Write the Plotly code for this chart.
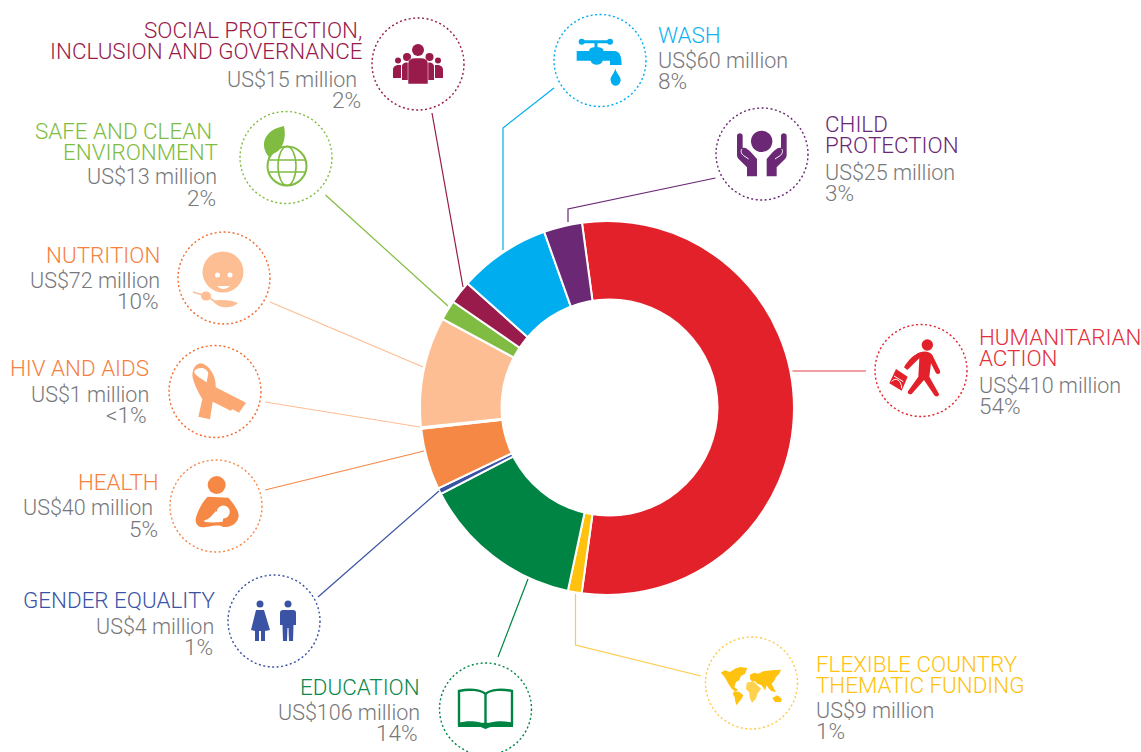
"""UNICEF style funding donut with call-outs."""

import re

import plotly.graph_objects as go

WIDTH = 1141
HEIGHT = 752

categories = [
    "Humanitarian action",
    "Flexible country thematic funding",
    "Education",
    "Gender equality",
    "Health",
    "HIV and AIDS",
    "Nutrition",
    "Safe and clean environment",
    "Social protection, inclusion and governance",
    "WASH",
    "Child protection",
]
funding_million = [410, 9, 106, 4, 40, 1, 72, 13, 15, 60, 25]
share_labels = ["54%", "1%", "14%", "1%", "5%", "<1%", "10%", "2%", "2%", "8%", "3%"]
heading_lines = [
    ["HUMANITARIAN", "ACTION"],
    ["FLEXIBLE COUNTRY", "THEMATIC FUNDING"],
    ["EDUCATION"],
    ["GENDER EQUALITY"],
    ["HEALTH"],
    ["HIV AND AIDS"],
    ["NUTRITION"],
    ["SAFE AND CLEAN", "ENVIRONMENT"],
    ["SOCIAL PROTECTION,", "INCLUSION AND GOVERNANCE"],
    ["WASH"],
    ["CHILD", "PROTECTION"],
]

slice_colors = [
    "#e3212a", "#ffc20e", "#008444", "#3a53a4", "#f68846", "#fbb078",
    "#fdbe94", "#80bc41", "#981b4b", "#00aeef", "#6a2875",
]
text_colors = [
    "#e5303a", "#ffc20e", "#0b8a4c", "#3a53a4", "#f6813f", "#f6813f",
    "#f6813f", "#80bc41", "#981b4b", "#12b2f0", "#6a2875",
]
circle_colors = [
    "#e3212a", "#ffc94a", "#008444", "#3a53a4", "#f68846", "#f26b2d",
    "#f26b2d", "#80bc41", "#981b4b", "#00aeef", "#6a2875",
]
leader_colors = [
    "#e3404a", "#ffc94a", "#008444", "#3a53a4", "#f68846", "#fdbe94",
    "#fdbe94", "#80bc41", "#981b4b", "#00aeef", "#6a2875",
]
GREY = "#77787b"
FONT = "Roboto"
HEADING_SIZE = 22.4
AMOUNT_SIZE = 21.5
SHARE_SIZE = 22.5

# layout in page pixels, one entry per category: side, per-line edge and centre y
text_places = [
    ("left", [978, 978, 978, 978], [337, 358, 385, 406]),
    ("left", [815, 815, 815, 815], [664, 685, 710, 731]),
    ("right", [421, 421, 419], [687, 712, 733]),
    ("right", [216, 215, 214], [600, 626, 647]),
    ("right", [160, 154, 159], [482, 507, 529]),
    ("right", [150, 150, 148], [368, 394, 415]),
    ("right", [161, 161, 160], [255, 280, 301]),
    ("right", [213, 219, 218, 217], [131, 152, 176, 198]),
    ("right", [363, 363, 358, 362], [30, 51, 79, 100]),
    ("left", [657, 657, 657], [35, 60, 81]),
    ("left", [824, 824, 824, 824], [124, 145, 172, 193]),
]
circle_centers = [
    (921, 370.5), (751.5, 683), (485.5, 709), (274, 621), (216, 506), (215, 391.5),
    (224, 278), (286, 157.5), (418, 64), (600, 60.5), (762, 154),
]
leader_paths = [
    "M792.5,371 L866,371",
    "M575.5,594 L575.5,645 L701,676",
    "M498,657 L528,579",
    "M318,597 L439,491",
    "M265,490 L424,451",
    "M265,402 L420,427",
    "M270,302 L423,367",
    "M325.5,195 L448,306",
    "M432,113 L463,287",
    "M503,250 L503,128 L554,88",
    "M568,222 L568,209 L715.5,178",
]


def zoomed(origin_x, origin_y, path):
    """Turn a path drawn on a 3x crop into page pixels."""
    numbers = iter(range(10000))

    def convert(match):
        origin = origin_x if next(numbers) % 2 == 0 else origin_y
        return f"{origin + float(match.group()) / 3:.2f}"

    return re.sub(r"\d+(?:\.\d+)?", convert, path)


def shape_path(path, fill=None, line=None, width=0):
    return dict(
        type="path", path=path, xref="x", yref="y", layer="above",
        fillcolor=fill if fill else "rgba(0,0,0,0)",
        line=dict(color=line if line else "rgba(0,0,0,0)", width=width),
    )


def dot(x, y, r, fill):
    return dict(
        type="circle", xref="x", yref="y", layer="above", x0=x - r, x1=x + r, y0=y - r, y1=y + r,
        fillcolor=fill, line=dict(width=0),
    )


def ellipse(x, y, rx, ry, fill=None, line=None, width=0):
    return dict(
        type="circle", xref="x", yref="y", layer="above", x0=x - rx, x1=x + rx, y0=y - ry, y1=y + ry,
        fillcolor=fill if fill else "rgba(0,0,0,0)",
        line=dict(color=line if line else "rgba(0,0,0,0)", width=width),
    )


def people_icon(c):
    shapes = [dot(418, 50, 6, c), dot(407, 57, 4, c), dot(429.5, 57, 4, c), dot(398, 60.5, 3, c), dot(438, 60.5, 3, c)]
    shapes.append(shape_path("M393,78 L393,70 C393,65 398,65 399,65 L401,65 L401,78 Z M443,78 L443,70 C443,65 438,65 437,65 L435,65 L435,78 Z", c))
    shapes.append(shape_path("M402,80 L402,67 C402,62 407,62 410,63 L410,80 Z M434,80 L434,67 C434,62 429,62 426,63 L426,80 Z", c))
    shapes.append(shape_path("M408,84 L408,64 C408,58 413,58 418,58 C423,58 428,58 428,64 L428,84 Z", c, "white", 0.5))
    return shapes


def globe_icon(c):
    shapes = [shape_path("M269,157 C259,145 264,130 284,126 C287,141 281,152 272,154 L269,157 Z", c)]
    shapes.append(ellipse(287, 166, 19.5, 19.5, None, c, 2))
    shapes.append(ellipse(287, 166, 9, 19.5, None, c, 1.6))
    shapes.append(shape_path("M268,160 L306,160 M268,172 L306,172", None, c, 1.6))
    return shapes


def nutrition_icon(c):
    shapes = [ellipse(223, 272, 20.5, 20.5, c)]
    shapes += [dot(217.5, 275, 2.5, "white"), dot(230, 275, 2.5, "white")]
    shapes.append(shape_path("M217,286 C221,290 226,290 230,286 Z", "white"))
    shapes.append(shape_path("M193,292 L206,296 L216,302", None, c, 1.5))
    shapes.append(ellipse(206, 296, 5, 4.5, c))
    shapes.append(shape_path("M213,301 C220,299 232,300 238,303 C232,309 218,309 213,301 Z", c))
    return shapes


def ribbon_icon(c):
    body = (
        "M105,70 C85,75 78,100 85,120 C92,145 108,170 112,178 L100,230 L135,238 L143,185 "
        "L197,212 L203,208 L222,218 L243,188 L152,142 C155,115 135,72 105,70 Z"
    )
    hole = "M87,95 C95,80 125,80 130,100 L125,127 C110,115 92,108 87,95 Z"
    return [shape_path(zoomed(165, 340, body), c), shape_path(zoomed(165, 340, hole), "white")]


def health_icon(c):
    body = (
        "M125,122 L187,125 C205,145 222,170 217,185 C212,205 190,215 172,213 L165,210 "
        "C150,205 120,215 108,214 C90,212 85,195 92,178 C100,155 112,135 125,122 Z"
    )
    arm = "M115,193 C130,190 135,180 150,165 L172,185 L170,197 C150,200 130,200 115,197 Z"
    return [
        dot(166 + 152 / 3, 456 + 87 / 3, 9, c),
        shape_path(zoomed(166, 456, body), c),
        shape_path(zoomed(166, 456, arm), "white"),
        dot(166 + 172 / 3, 456 + 168 / 3, 6.5, "white"),
    ]


def gender_icon(c):
    woman = "M256,610 L264,610 L270,630 L265,631 L265,641 L261,641 L261,631 L259,631 L259,641 L255,641 L255,631 L251,630 Z"
    man = (
        "M283,610 L293,610 C295,610 296,611 296,613 L296,625 L293.5,625 L293,641 L289,641 L288.5,628 "
        "L287.5,628 L287,641 L283,641 L282.5,625 L280,625 L280,613 C280,611 281,610 283,610 Z"
    )
    return [dot(260, 604, 3.5, c), dot(288, 604, 3.5, c), shape_path(woman, c), shape_path(man, c)]


def book_icon(c):
    pages = "M459,691 C468,689 480,689 485.5,694 C491,689 503,689 512,691 L512,724 L459,724 Z M485.5,694 L485.5,726"
    band = "M458,723 L458,727 L478,727 C482,727 483,728 485.5,729 C488,728 489,727 493,727 L513,727 L513,723 C503,720 491,721 485.5,725 C480,721 468,720 458,723 Z"
    return [shape_path(pages, None, c, 2.4), shape_path(band, c)]


def map_icon(c):
    lands = (
        "M62,122 L75,115 L90,120 L105,110 L120,105 L142,108 L135,125 L122,133 L118,145 L108,150 L103,165 "
        "L115,175 L105,178 L95,170 L85,155 L78,142 L70,130 Z "
        "M103,178 L118,180 L130,190 L125,200 L115,212 L110,220 L106,210 L104,195 L98,185 Z "
        "M150,128 L162,122 L175,125 L190,118 L215,115 L243,113 L238,125 L228,135 L222,148 L215,155 L222,170 "
        "L228,180 L215,178 L207,170 L200,160 L195,175 L185,160 L172,155 L165,148 L155,148 L150,140 Z "
        "M217,198 L232,190 L245,200 L243,210 L225,210 Z"
    )
    africa = "M140,152 L160,148 L172,160 L183,170 L172,185 L168,200 L156,212 L150,200 L147,180 L138,172 Z"
    return [shape_path(zoomed(700, 632, africa), "#ffd24d"), shape_path(zoomed(700, 632, lands), c)]


def walker_icon(c):
    body = (
        "M150,97 C165,92 180,95 187,105 L210,152 C213,160 205,165 198,160 L183,130 L178,170 L207,222 "
        "C208,230 197,232 193,226 L162,180 L125,222 C118,226 110,218 115,212 L145,170 L148,115 L112,150 "
        "L102,142 C115,120 130,105 150,97 Z"
    )
    bag = "M78,147 L113,170 L95,212 L58,190 Z"
    marks = "M65,185 C75,170 95,180 95,205 M72,168 L100,185"
    return [
        dot(870 + 172 / 3, 320 + 75 / 3, 5.7, c),
        shape_path(zoomed(870, 320, body), c),
        shape_path(zoomed(870, 320, bag), c),
        shape_path(zoomed(870, 320, marks), None, "white", 1),
    ]


def tap_icon(c):
    tap = (
        "M118,120 C118,108 160,108 160,120 L160,123 L195,123 C210,125 215,140 215,165 L180,165 L180,152 "
        "L158,152 C155,168 125,168 122,152 L80,152 L80,123 L118,123 Z"
    )
    drop = "M196,176 C190,195 180,200 182,212 C185,232 208,232 212,212 C213,200 202,195 196,176 Z"
    handle = "M95,95 L180,95 M138,95 L138,112"
    return [
        shape_path(zoomed(550, 10, tap), c),
        shape_path(zoomed(550, 10, drop), c),
        shape_path(zoomed(550, 10, handle), None, c, 3),
        dot(550 + 95 / 3, 10 + 95 / 3, 3, c),
        dot(550 + 180 / 3, 10 + 95 / 3, 3, c),
    ]


def hands_icon(c):
    left = "M75,95 C75,85 92,85 92,95 L92,132 C100,128 110,135 135,165 L135,217 L105,217 L105,190 L80,165 C75,160 75,155 75,150 Z"
    right = "M224,95 C224,85 207,85 207,95 L207,132 C199,128 189,135 164,165 L164,217 L194,217 L194,190 L219,165 C224,160 224,155 224,150 Z"
    fingers = "M90,135 C85,140 88,150 95,155 L110,165 M209,135 C214,140 211,150 204,155 L189,165"
    return [
        dot(712 + 149 / 3, 104 + 112 / 3, 10.7, c),
        shape_path(zoomed(712, 104, left), c),
        shape_path(zoomed(712, 104, right), c),
        shape_path(zoomed(712, 104, fingers), None, "white", 1),
    ]


icon_makers = [
    walker_icon, map_icon, book_icon, gender_icon, health_icon, ribbon_icon,
    nutrition_icon, globe_icon, people_icon, tap_icon, hands_icon,
]
icon_colors = list(slice_colors)
icon_colors[5] = "#fca872"

fig = go.Figure()
fig.add_trace(go.Scatter(x=[], y=[], showlegend=False))
fig.add_trace(
    go.Pie(
        labels=categories,
        values=funding_million,
        sort=False,
        direction="clockwise",
        rotation=352.3,
        hole=0.55,
        textinfo="none",
        showlegend=False,
        marker=dict(colors=slice_colors, line=dict(color="white", width=2)),
        domain=dict(
            x=[(607 - 187) / WIDTH, (607 + 187) / WIDTH],
            y=[1 - (408 + 187) / HEIGHT, 1 - (408 - 187) / HEIGHT],
        ),
    )
)

# the hole in the source artwork sits a little right of the ring's centre
shapes = [dot(609.5, 407.5, 109, "white")]
annotations = []
for i, category in enumerate(categories):
    # leader, dotted ring and icon
    shapes.append(shape_path(leader_paths[i], None, leader_colors[i], 1.2))
    cx, cy = circle_centers[i]
    shapes.append(ellipse(cx, cy, 46, 46, None, circle_colors[i], 1.4))
    shapes[-1]["line"]["dash"] = "2px,2.5px"
    shapes += icon_makers[i](icon_colors[i])

    # text lines sit one by one, the leading is tighter than a <br> gives
    side, edges, centers = text_places[i]
    headings = heading_lines[i]
    lines = headings + [f"US${funding_million[i]} million", share_labels[i]]
    sizes = [HEADING_SIZE] * len(headings) + [AMOUNT_SIZE, SHARE_SIZE]
    for j, line in enumerate(lines):
        annotations.append(
            dict(
                text=line.replace("<", "&lt;"),
                x=edges[j],
                y=centers[j],
                xref="x",
                yref="y",
                xanchor=side,
                yanchor="middle",
                showarrow=False,
                borderpad=0,
                font=dict(
                    family=FONT,
                    weight=300,
                    size=sizes[j],
                    color=text_colors[i] if j < len(headings) else GREY,
                ),
            )
        )

fig.update_layout(
    width=WIDTH,
    height=HEIGHT,
    margin=dict(l=0, r=0, t=0, b=0),
    paper_bgcolor="white",
    plot_bgcolor="white",
    xaxis=dict(range=[0, WIDTH], visible=False, domain=[0, 1]),
    yaxis=dict(range=[HEIGHT, 0], visible=False, domain=[0, 1]),
    shapes=shapes,
    annotations=annotations,
)

fig.write_html(
    "out.html",
    config={"displayModeBar": False},
    post_script="document.body.style.margin='0';",
)
